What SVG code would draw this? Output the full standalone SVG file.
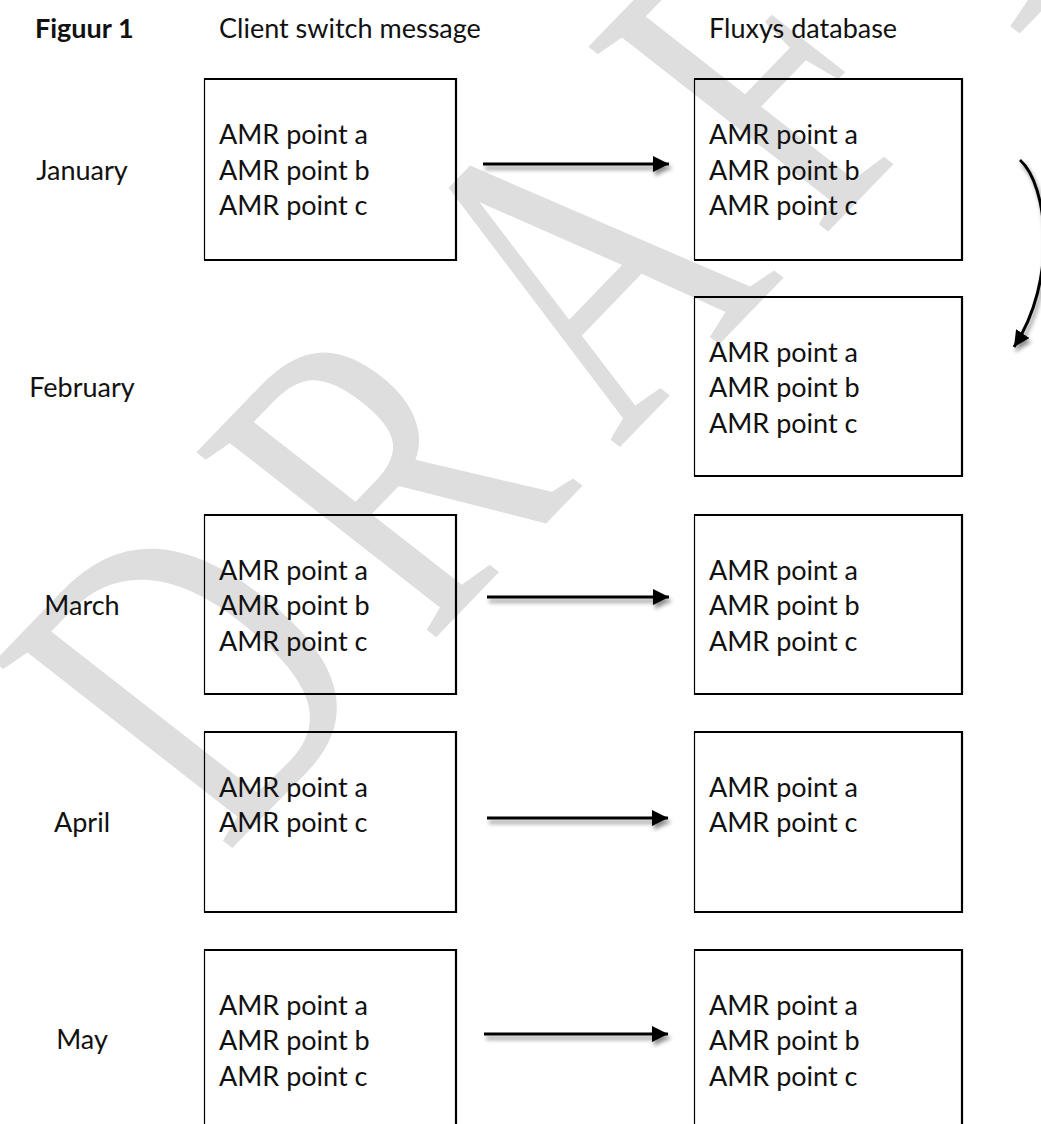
<svg xmlns="http://www.w3.org/2000/svg" width="1041" height="1124" viewBox="0 0 1041 1124">
  <style>
    .lbl { font-family: Lato, "Noto Sans", sans-serif; font-size: 27px; fill: #111; }
    .bold { font-weight: 700; }
    .mid { text-anchor: middle; }
    .frame { fill: none; stroke: #000; stroke-width: 2.2; }
    .edge { fill: none; stroke: #000; stroke-width: 1.2; }
    .wire { fill: none; stroke: #000; stroke-width: 3; }
    .wm { font-family: "Liberation Serif", serif; font-size: 100px; letter-spacing: 15px; fill: #dedede; }
  </style>
  <defs>
    <marker id="head" markerUnits="userSpaceOnUse" markerWidth="20" markerHeight="18" refX="16" refY="8" orient="auto">
      <path d="M0,0 L16,8 L0,16 Z" fill="#000"/>
    </marker>
    <filter id="soft" x="-10%" y="-50%" width="130%" height="300%">
      <feGaussianBlur in="SourceAlpha" stdDeviation="2.2"/>
      <feOffset dx="2" dy="4" result="b"/>
      <feComponentTransfer><feFuncA type="linear" slope="0.45"/></feComponentTransfer>
      <feMerge><feMergeNode/><feMergeNode in="SourceGraphic"/></feMerge>
    </filter>
  </defs>
  <rect width="1041" height="1124" fill="#fff"/>

  <!-- watermark -->
  <text class="wm" transform="matrix(2.321 -2.401 3.641 2.846 225.6 855)">DRAFT</text>

  <!-- column headings -->
  <g id="headings">
    <text class="lbl bold" x="35" y="38">Figuur 1</text>
    <text class="lbl" x="219" y="38">Client switch message</text>
    <text class="lbl" x="709" y="38">Fluxys database</text>
  </g>

  <!-- month labels -->
  <g id="months">
    <text class="lbl mid" x="82" y="180">January</text>
    <text class="lbl mid" x="82" y="397">February</text>
    <text class="lbl mid" x="82" y="615">March</text>
    <text class="lbl mid" x="82" y="832">April</text>
    <text class="lbl mid" x="82" y="1049">May</text>
  </g>

  <!-- client switch message boxes -->
  <g id="client-jan">
    <path class="frame" d="M204,79 H456 V260 H204"/><path class="edge" d="M204.5,79 V260"/>
    <text class="lbl" x="219" y="144">AMR point a</text>
    <text class="lbl" x="219" y="180">AMR point b</text>
    <text class="lbl" x="219" y="215">AMR point c</text>
  </g>
  <g id="client-mar">
    <path class="frame" d="M204,515 H456 V694 H204"/><path class="edge" d="M204.5,515 V694"/>
    <text class="lbl" x="219" y="580">AMR point a</text>
    <text class="lbl" x="219" y="615">AMR point b</text>
    <text class="lbl" x="219" y="651">AMR point c</text>
  </g>
  <g id="client-apr">
    <path class="frame" d="M204,732 H456 V912 H204"/><path class="edge" d="M204.5,732 V912"/>
    <text class="lbl" x="219" y="797">AMR point a</text>
    <text class="lbl" x="219" y="832">AMR point c</text>
  </g>
  <g id="client-may">
    <path class="frame" d="M204,950 H456 V1130 H204"/><path class="edge" d="M204.5,950 V1130"/>
    <text class="lbl" x="219" y="1015">AMR point a</text>
    <text class="lbl" x="219" y="1050">AMR point b</text>
    <text class="lbl" x="219" y="1086">AMR point c</text>
  </g>

  <!-- Fluxys database boxes -->
  <g id="db-jan">
    <path class="frame" d="M694,79 H962 V260 H694"/><path class="edge" d="M694.5,79 V260"/>
    <text class="lbl" x="709" y="144">AMR point a</text>
    <text class="lbl" x="709" y="180">AMR point b</text>
    <text class="lbl" x="709" y="215">AMR point c</text>
  </g>
  <g id="db-feb">
    <path class="frame" d="M694,297 H962 V476 H694"/><path class="edge" d="M694.5,297 V476"/>
    <text class="lbl" x="709" y="362">AMR point a</text>
    <text class="lbl" x="709" y="397">AMR point b</text>
    <text class="lbl" x="709" y="433">AMR point c</text>
  </g>
  <g id="db-mar">
    <path class="frame" d="M694,515 H962 V694 H694"/><path class="edge" d="M694.5,515 V694"/>
    <text class="lbl" x="709" y="580">AMR point a</text>
    <text class="lbl" x="709" y="615">AMR point b</text>
    <text class="lbl" x="709" y="651">AMR point c</text>
  </g>
  <g id="db-apr">
    <path class="frame" d="M694,732 H962 V912 H694"/><path class="edge" d="M694.5,732 V912"/>
    <text class="lbl" x="709" y="797">AMR point a</text>
    <text class="lbl" x="709" y="832">AMR point c</text>
  </g>
  <g id="db-may">
    <path class="frame" d="M694,950 H962 V1130 H694"/><path class="edge" d="M694.5,950 V1130"/>
    <text class="lbl" x="709" y="1015">AMR point a</text>
    <text class="lbl" x="709" y="1050">AMR point b</text>
    <text class="lbl" x="709" y="1086">AMR point c</text>
  </g>

  <!-- connectors -->
  <g id="connectors" filter="url(#soft)">
    <path class="wire" d="M483,164 H669" marker-end="url(#head)"/>
    <path class="wire" d="M487,597 H669" marker-end="url(#head)"/>
    <path class="wire" d="M487,818 H668" marker-end="url(#head)"/>
    <path class="wire" d="M484,1034 H668" marker-end="url(#head)"/>
    <path class="wire" d="M1020,160 C1048,185 1058,280 1014,347" marker-end="url(#head)"/>
  </g>
</svg>
